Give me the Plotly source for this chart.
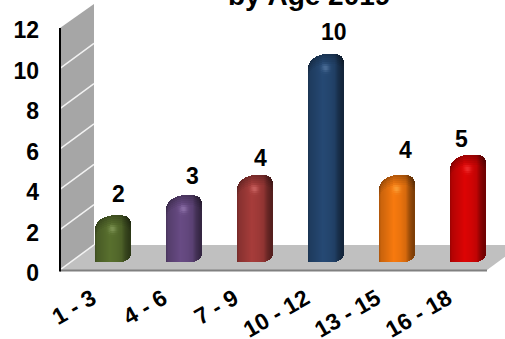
import numpy as np
import plotly.graph_objects as go

categories = ["1 - 3", "4 - 6", "7 - 9", "10 - 12", "13 - 15", "16 - 18"]
values = [2, 3, 4, 10, 4, 5]
bar_colors = ["#556b2c", "#64487f", "#a03a38", "#24466f", "#ee750e", "#d40404"]
y_ticks = [0, 2, 4, 6, 8, 10, 12]
title_text = "by Age 2019"

# Canvas and plot box, in pixels
W, H = 505, 339
LEFT, RIGHT, TOP, BOTTOM = 60, 487, 28, 270
DEPTH_X, DEPTH_Y = 34, 25
PX_PER_UNIT = (BOTTOM - TOP) / 12
PX_PER_CAT = (RIGHT - LEFT) / 6
Y_FLOOR = -0.4          # axis runs a little below zero so the zero label can sit under the floor
PLOT_BOTTOM = BOTTOM - Y_FLOOR * PX_PER_UNIT


def paper_x(px):
    return (px - LEFT) / (RIGHT - LEFT)


def paper_y(py):
    return (PLOT_BOTTOM - py) / (PLOT_BOTTOM - TOP)


def rgb(hex_color):
    return np.array([int(hex_color[i:i + 2], 16) for i in (1, 3, 5)], dtype=float)


def polygon(points, color):
    path = "M " + " L ".join(f"{paper_x(a):.4f},{paper_y(b):.4f}" for a, b in points) + " Z"
    return dict(type="path", xref="paper", yref="paper", path=path,
                fillcolor=color, line=dict(width=0), layer="below")


# Cylinder-like column: drawn as thin vertical strips, the top ones split into short cells
COL_W = 35              # strip count, one pixel each
CAP_PX = 26             # height of the shaded cap
CELL_PX = 2
COL_SHIFT = 17 / PX_PER_CAT       # columns stand in the middle of the floor depth
TOP_RAISE = 14.5        # top of the column sits above the value by the depth offset
BASE_RAISE = 7.5

u_grid = (np.arange(COL_W) + 0.5) / COL_W
top_drop = np.interp(u_grid, [0, .03, .08, .15, .25, .38, .5, .72, .85, .93, .98, 1],
                     [13, 9.5, 6.5, 4.5, 2.5, .8, 0, 0, .8, 2.5, 5, 7.5])
bottom_rise = np.interp(u_grid, [0, .03, .7, .8, .9, .97, 1],
                        [1.5, 0, 0, .8, 2.5, 5, 7.5])
side_shade = np.interp(u_grid, [0, .06, .2, .42, .62, .76, .86, .95, 1],
                       [.72, .85, .92, 1.04, .98, .9, .68, .56, .52])

xs, bases, heights, colors = [], [], [], []
for idx, (val, col) in enumerate(zip(values, bar_colors)):
    base_col = rgb(col)
    center = idx + COL_SHIFT
    for j, u in enumerate(u_grid):
        x = center + (u - .5) * COL_W / PX_PER_CAT
        y_top = val + (TOP_RAISE - top_drop[j]) / PX_PER_UNIT
        y_low = (BASE_RAISE + bottom_rise[j]) / PX_PER_UNIT
        body_top = y_top - CAP_PX / PX_PER_UNIT
        xs.append(x)
        bases.append(y_low)
        heights.append(max(body_top - y_low, 0) + CELL_PX / PX_PER_UNIT)
        c = base_col * side_shade[j]
        colors.append(f"rgb({c[0]:.0f},{c[1]:.0f},{c[2]:.0f})")
        # Cap cells: darker along the rim, with a soft highlight below the crown
        for k in range(int(CAP_PX / CELL_PX)):
            d = k * CELL_PX + 1
            y1 = y_top - k * CELL_PX / PX_PER_UNIT
            y0 = y1 - CELL_PX / PX_PER_UNIT
            if y0 < y_low:
                continue
            rim = np.interp(d, [0, 4, 11], [.72, .84, 1.0])
            abs_down = d + top_drop[j]
            spot = np.exp(-(((u - .5) * COL_W) ** 2 + (abs_down - 14) ** 2) / 14.0)
            cell = base_col * side_shade[j] * rim
            cell = cell + (np.minimum(base_col + 70, 255) - cell) * spot * .55
            xs.append(x)
            bases.append(y0)
            heights.append(CELL_PX / PX_PER_UNIT)
            colors.append(f"rgb({cell[0]:.0f},{cell[1]:.0f},{cell[2]:.0f})")

fig = go.Figure()
fig.add_trace(go.Bar(
    x=xs, y=heights, base=bases, width=1.15 / PX_PER_CAT,
    marker=dict(color=colors, line=dict(width=0)),
    hoverinfo="skip", showlegend=False,
))

# Back wall, floor and grid
shapes = [
    polygon([(LEFT, BOTTOM), (LEFT + DEPTH_X, BOTTOM - DEPTH_Y),
             (LEFT + DEPTH_X, TOP - DEPTH_Y + 1), (LEFT, TOP)], "#a6a6a6"),
    polygon([(LEFT, BOTTOM), (RIGHT, BOTTOM), (RIGHT + DEPTH_X, BOTTOM - DEPTH_Y),
             (LEFT + DEPTH_X, BOTTOM - DEPTH_Y)], "#c0c0c0"),
]
for t in y_ticks[:-1]:
    py = BOTTOM - t * PX_PER_UNIT
    shapes.append(dict(type="line", xref="paper", yref="paper", layer="below",
                       x0=paper_x(LEFT), y0=paper_y(py),
                       x1=paper_x(LEFT + DEPTH_X), y1=paper_y(py - DEPTH_Y),
                       line=dict(color="#f2f2f2", width=1.5)))
shapes.append(dict(type="line", xref="paper", yref="paper", layer="below",
                   x0=paper_x(LEFT), x1=paper_x(RIGHT), y0=paper_y(BOTTOM + .5), y1=paper_y(BOTTOM + .5),
                   line=dict(color="#808080", width=2)))
shapes.append(dict(type="line", xref="paper", yref="paper", layer="above",
                   x0=paper_x(LEFT), x1=paper_x(LEFT), y0=paper_y(BOTTOM + 1.5), y1=paper_y(TOP),
                   line=dict(color="#000000", width=2)))

FONT = dict(family="Liberation Sans, Arial, sans-serif", size=23, color="#000000", weight="bold")

# Value labels, each nudged clear of its column
label_dx = [6, 9, 6, 8, 8, -7]
label_dy = [6, 4, 2, 7, 10, 1]
annotations = [
    dict(x=i + COL_SHIFT, y=v + TOP_RAISE / PX_PER_UNIT, text=str(v), showarrow=False,
         xref="x", yref="y", xanchor="center", yanchor="bottom", font=FONT,
         xshift=dx, yshift=dy)
    for i, (v, dx, dy) in enumerate(zip(values, label_dx, label_dy))
]
annotations.append(dict(
    x=paper_x(309), y=paper_y(13), xref="paper", yref="paper", text=title_text, showarrow=False,
    xanchor="center", yanchor="bottom", font=dict(FONT, size=28),
))

# Tick labels sit slightly below their grid level and spread a touch wider
y_label_pos = [-0.15 + t * 12.05 / 12 for t in y_ticks]
x_label_pos = [i - 0.05 for i in range(len(categories))]

fig.update_layout(
    width=W, height=H,
    margin=dict(l=LEFT, r=W - RIGHT, t=TOP, b=H - PLOT_BOTTOM, pad=0, autoexpand=False),
    paper_bgcolor="#ffffff", plot_bgcolor="rgba(0,0,0,0)",
    barmode="overlay", bargap=0, showlegend=False,
    shapes=shapes, annotations=annotations,
    xaxis=dict(range=[-.5, 5.5], tickmode="array", tickvals=x_label_pos, ticktext=categories,
               tickangle=-30, showgrid=False, zeroline=False, showline=False, ticks="",
               automargin=False, ticklabelstandoff=2, tickfont=dict(FONT, size=23)),
    yaxis=dict(range=[Y_FLOOR, 12], tickmode="array", tickvals=y_label_pos, ticktext=[str(t) for t in y_ticks],
               showgrid=False, automargin=False, zeroline=False, showline=False, ticks="",
               ticklabelstandoff=20, tickfont=FONT),
)

fig.write_html("out.html", config=dict(displayModeBar=False))
